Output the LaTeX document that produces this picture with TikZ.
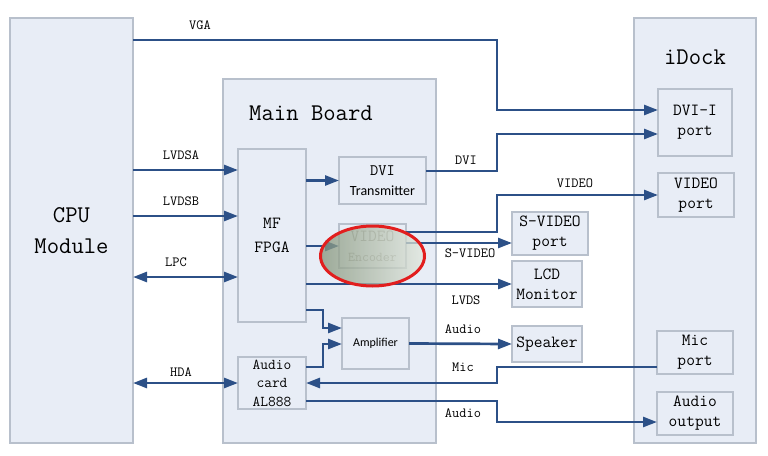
\documentclass[tikz,border=0pt]{standalone}
\usepackage{fontspec}
\renewcommand{\familydefault}{\ttdefault}
\newfontfamily\calfam{Carlito}
\usetikzlibrary{arrows.meta}

\definecolor{boxfill}{RGB}{232,237,246}
\definecolor{boxline}{RGB}{184,192,204}
\definecolor{wire}{RGB}{44,80,135}
\definecolor{ringred}{RGB}{226,30,30}
\definecolor{ringdark}{RGB}{132,148,122}
\definecolor{ringlight}{RGB}{226,232,222}

\tikzset{
  blk/.style={draw=boxline, fill=boxfill, line width=1.4pt, inner sep=0pt, outer sep=0pt, align=center},
  part/.style={blk, font=\fontsize{17}{20}\selectfont},
  sig/.style={draw=wire, line width=2.7pt, -{Triangle[length=14pt,width=10pt]}},
  bus/.style={sig, {Triangle[length=14pt,width=10pt]}-{Triangle[length=14pt,width=10pt]}},
  lbl/.style={font=\fontsize{14}{16}\selectfont, inner sep=0pt},
  ring/.style={draw=ringred, line width=3pt, left color=ringdark, right color=ringlight, fill opacity=0.75},
}

\begin{document}
\begin{tikzpicture}[x=1pt, y=-1pt]
	\useasboundingbox (0,0) rectangle (768,455);
	% big blocks
	\node[blk, minimum width=123, minimum height=425, font=\fontsize{24}{31}\selectfont] (cpu) at (71.5,230.5) {CPU\\Module};
	\node[blk, minimum width=213, minimum height=364] (main) at (329.5,261) {};
	\node[blk, minimum width=122, minimum height=425] (idock) at (695,230.5) {};
	\node[font=\fontsize{24}{26}\selectfont] (maintitle) at (311,113) {Main Board};
	\node[font=\fontsize{24}{26}\selectfont] (idocktitle) at (695,57) {iDock};
	% main board parts
	\node[part, minimum width=68, minimum height=173, font=\fontsize{17}{24}\selectfont] (fpga) at (272,235.5) {MF\\FPGA};
	\node[part, minimum width=87, minimum height=47] (dvitx) at (382.5,180.5) {{\fontsize{16}{18}\selectfont DVI}\\{\calfam\fontsize{14}{18}\selectfont Transmitter}};
	\node[part, minimum width=67, minimum height=44, text=gray!75] (enc) at (372.5,246) {VIDEO\\{\fontsize{13.5}{16}\selectfont Encoder}};
	\node[part, minimum width=67, minimum height=51, font=\calfam\fontsize{12}{14}\selectfont] (amp) at (375.5,343.5) {Amplifier};
	\node[part, minimum width=68, minimum height=52, font=\fontsize{15}{18.5}\selectfont] (audio) at (272,383) {Audio\\card\\AL888};
	% outputs
	\node[part, minimum width=76, minimum height=43] (svport) at (550,233.5) {S-VIDEO\\port};
	\node[part, minimum width=70, minimum height=46] (lcd) at (547,284) {LCD\\Monitor};
	\node[part, minimum width=70, minimum height=36] (spk) at (547,344) {Speaker};
	% iDock ports
	\node[part, minimum width=74, minimum height=67] (dvii) at (695,122.5) {DVI-I\\port};
	\node[part, minimum width=76, minimum height=44] (vport) at (696,195) {VIDEO\\port};
	\node[part, minimum width=76, minimum height=43] (micp) at (695,352.5) {Mic\\port};
	\node[part, minimum width=76, minimum height=43] (aout) at (695,413.5) {Audio\\output};

	% CPU side
	\draw[sig] (cpu.east |- 0,40) -- (497,40) |- (dvii.west |- 0,110);
	\draw[sig] (cpu.east |- 0,170) -- (fpga.west |- 0,170);
	\draw[sig] (cpu.east |- 0,216) -- (fpga.west |- 0,216);
	\draw[bus] (cpu.east |- 0,277) -- (fpga.west |- 0,277);
	\draw[bus] (cpu.east |- audio.west) -- (audio.west);
	% FPGA outputs
	\draw[sig] (fpga.east |- dvitx.west) -- (dvitx.west);
	\draw[sig] (fpga.east |- enc.west) -- (enc.west);
	\draw[sig] (fpga.east |- lcd.west) -- (lcd.west);
	\draw[sig] (fpga.east |- 0,310) -- (323,310) |- (amp.west |- 0,328);
	\draw[sig] (audio.east |- 0,367) -- (323,367) |- (amp.west |- 0,344);
	\draw[sig] (amp.east) -- (spk.west);
	% to iDock
	\draw[sig] (dvitx.east |- 0,171) -- (497,171) |- (dvii.west |- 0,134);
	\draw[sig] (enc.east |- 0,232) -- (497,232) |- (vport.west);
	\draw[sig] (enc.east |- 0,243) -- (svport.west |- 0,243);
	\draw[sig] (micp.west |- 0,367) -- (497,367) |- (audio.east);
	\draw[sig] (audio.east |- 0,401) -- (497,401) |- (aout.west |- 0,422);

	% highlight
	\draw[ring] ([yshift=-10pt]enc.center) ellipse [x radius=52pt, y radius=30pt];

	% wire labels
	\node[lbl] (lvga) at (200,25) {VGA};
	\node[lbl] (llvdsa) at (181,155) {LVDSA};
	\node[lbl] (llvdsb) at (181,201) {LVDSB};
	\node[lbl] (llpc) at (176,262) {LPC};
	\node[lbl] (lhda) at (181,372) {HDA};
	\node[lbl] (ldvi) at (466,160) {DVI};
	\node[lbl] (lvideo) at (575,183) {VIDEO};
	\node[lbl] (lsvideo) at (470,253) {S-VIDEO};
	\node[lbl] (llvds) at (466,300) {LVDS};
	\node[lbl] (laudio) at (463,329) {Audio};
	\node[lbl] (lmic) at (463,367) {Mic};
	\node[lbl] (laudout) at (463,413) {Audio};
\end{tikzpicture}
\end{document}
